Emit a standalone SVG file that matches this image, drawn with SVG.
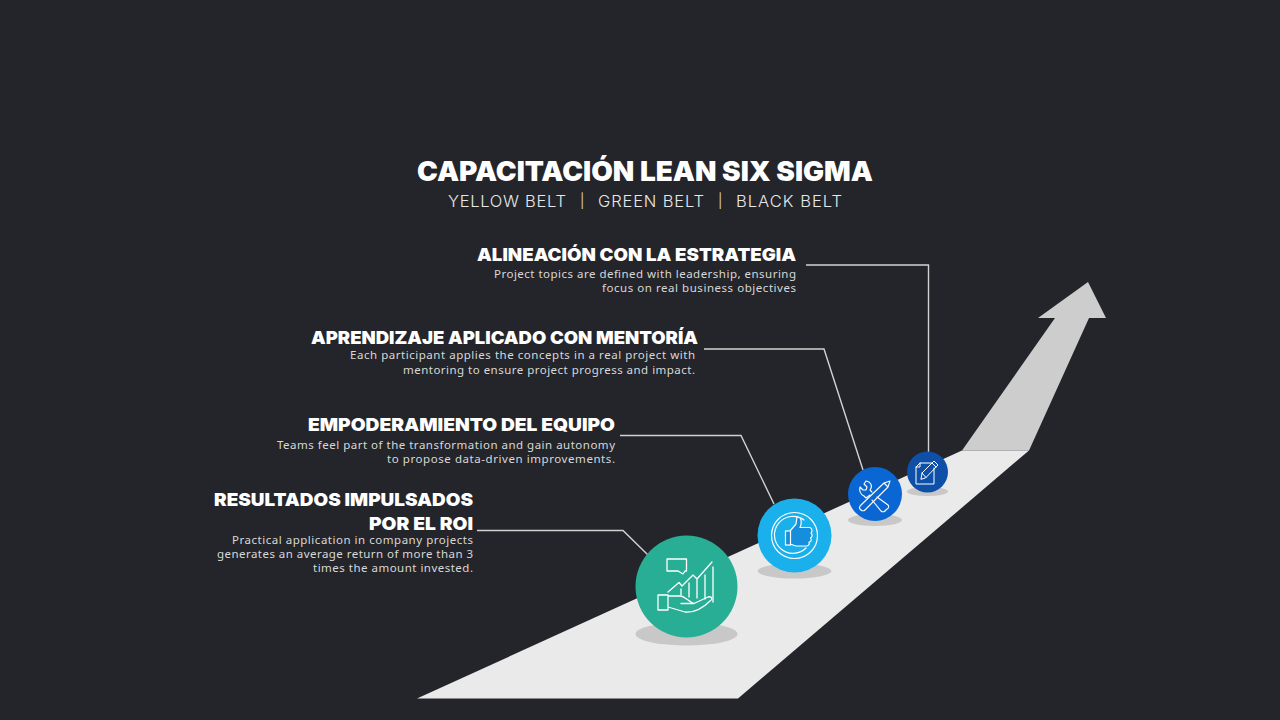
<svg xmlns="http://www.w3.org/2000/svg" width="1280" height="720" viewBox="0 0 1280 720">
<style>
.h{font-family:Inter,"Liberation Sans",sans-serif;font-weight:900;font-size:18px;fill:#fff;text-anchor:end}
.b{font-family:"Noto Sans","Liberation Sans",sans-serif;font-size:11.500px;fill:#d8d8d8;text-anchor:end}
.t{font-family:Inter,"Liberation Sans",sans-serif;font-weight:300;font-size:16.500px;fill:#e8e8e8}
.c{fill:none;stroke:#d2d2d2;stroke-width:1.400}
.i{fill:none;stroke:#fff;stroke-linejoin:round;stroke-linecap:round}
.s{fill:#c8c8c8}
</style>
<rect width="1280" height="720" fill="#24252a"/>
<g id="road">
<polygon points="962,450.500 1029,450.500 1089,318 1106,318 1088,282 1038,318 1055,318" fill="#cdcdcd"/>
<polygon points="417,698.500 738,698.500 1029,450.500 962,450.500" fill="#eaeaea"/>
</g>
<g id="title">
<text x="417" y="181" textLength="456" lengthAdjust="spacingAndGlyphs" style="font-family:Inter,'Liberation Sans',sans-serif;font-weight:900;font-size:27.500px;fill:#fff">CAPACITACIÓN LEAN SIX SIGMA</text>
<text class="t" x="448" y="206.500" textLength="118">YELLOW BELT</text>
<text class="t" x="580" y="205.500" style="font-size:14px">|</text>
<text class="t" x="598" y="206.500" textLength="106">GREEN BELT</text>
<text class="t" x="718" y="205.500" style="font-size:14px">|</text>
<text class="t" x="736" y="206.500" textLength="106">BLACK BELT</text>
</g>
<g id="connectors">
<polyline class="c" points="806,265 928.500,265 928.500,453"/>
<polyline class="c" points="704,349 824,349 863,470"/>
<polyline class="c" points="620,435.500 741,435.500 774,504"/>
<polyline class="c" points="477,530.500 623,530.500 648,555"/>
</g>
<g id="label-1">
<text class="h" x="796" y="261" textLength="319" lengthAdjust="spacingAndGlyphs">ALINEACIÓN CON LA ESTRATEGIA</text>
<text class="b" x="796" y="278.300" textLength="302">Project topics are defined with leadership, ensuring</text>
<text class="b" x="796" y="292.300" textLength="194">focus on real business objectives</text>
</g>
<g id="label-2">
<text class="h" x="698" y="344" textLength="387" lengthAdjust="spacingAndGlyphs">APRENDIZAJE APLICADO CON MENTORÍA</text>
<text class="b" x="695" y="359.300" textLength="345">Each participant applies the concepts in a real project with</text>
<text class="b" x="695" y="373.800" textLength="292">mentoring to ensure project progress and impact.</text>
</g>
<g id="label-3">
<text class="h" x="615" y="431" textLength="307" lengthAdjust="spacingAndGlyphs">EMPODERAMIENTO DEL EQUIPO</text>
<text class="b" x="615" y="449" textLength="338">Teams feel part of the transformation and gain autonomy</text>
<text class="b" x="615" y="463.300" textLength="228">to propose data-driven improvements.</text>
</g>
<g id="label-4">
<text class="h" x="473" y="506" textLength="259" lengthAdjust="spacingAndGlyphs">RESULTADOS IMPULSADOS</text>
<text class="h" x="473" y="530" textLength="104" lengthAdjust="spacingAndGlyphs">POR EL ROI</text>
<text class="b" x="473" y="543.500" textLength="241">Practical application in company projects</text>
<text class="b" x="473" y="558.300" textLength="256">generates an average return of more than 3</text>
<text class="b" x="473" y="572.300" textLength="160">times the amount invested.</text>
</g>
<g id="node-1">
<ellipse class="s" cx="927.500" cy="491.500" rx="20.500" ry="4.500"/>
<circle cx="927.500" cy="472" r="20.500" fill="#0e4fa8"/>
<path class="i" stroke-width="1" d="M934,468V484H916V467L920,463H931M920,463V467H916"/>
<path class="i" stroke-width="1" d="M921,479L922,473L934,461L938,465L926,477.500ZM922,473L926,477.500M932,463L936,467"/>
</g>
<g id="node-2">
<ellipse class="s" cx="875" cy="520" rx="27" ry="6"/>
<circle cx="875" cy="494" r="27" fill="#0a66d2"/>
<path class="i" stroke-width="1.100" d="M877,497L888,505C889,506 889,508 887,509L885,511C884,512 882,512 881,511L872,500"/>
<path class="i" stroke-width="1.100" d="M872,492L870,490C873,486 871,482 866,481L864,484L867,487L866,490L863,490L860,487C859,491 860,494 864,496L866,498L870,495"/>
<path class="i" stroke-width="1.100" d="M861,505L884,483L890,481L888,487L865,510C864,511 862,511 861,510L860,509C859,508 860,506 861,505ZM884,483L888,487"/>
</g>
<g id="node-3">
<ellipse class="s" cx="794.500" cy="571" rx="37" ry="7.500"/>
<circle cx="794.500" cy="535.500" r="37" fill="#1ab0ec"/>
<circle class="i" stroke-width="1.200" cx="794.500" cy="535.500" r="23"/>
<path class="i" stroke-width="1.200" d="M806,548A18.500,18.500 0 1 1 804,520"/>
<path d="M790,531L796,524L797,517C802,517 802,523 800,527.500H810C813,529 812,532 811,533C813,535 812,537 810.500,538C812,540 811,542 809,542C810,545 808,546 806,546H796L790,544Z" fill="#158fdc" stroke="#fff" stroke-width="1.200" stroke-linejoin="round"/>
<rect x="785.500" y="531" width="5" height="14" fill="#158fdc" stroke="#fff" stroke-width="1.200"/>
</g>
<g id="node-4">
<ellipse class="s" cx="686.500" cy="634" rx="51" ry="11.500"/>
<circle cx="686.500" cy="586.500" r="51" fill="#27ae94"/>
<path class="i" stroke-width="1.300" d="M667,559H686.500V571H685L683,574L678,571H667Z"/>
<path class="i" stroke-width="1.300" d="M668,592L679,582.500L682,586L693,575L697,579L712,562"/>
<path class="i" stroke-width="1.300" d="M681,589V595M689,583V597M697,580V598M705,575V599M713,567V602"/>
<path class="i" stroke-width="1.300" d="M658,595H668V610H658ZM668,596H680C685,596 690,603 694,603.500H681M694,603.500L708,597C712,596 713,599 710,601C703,608 695,613 685,612L668,607"/>
</g>
</svg>
